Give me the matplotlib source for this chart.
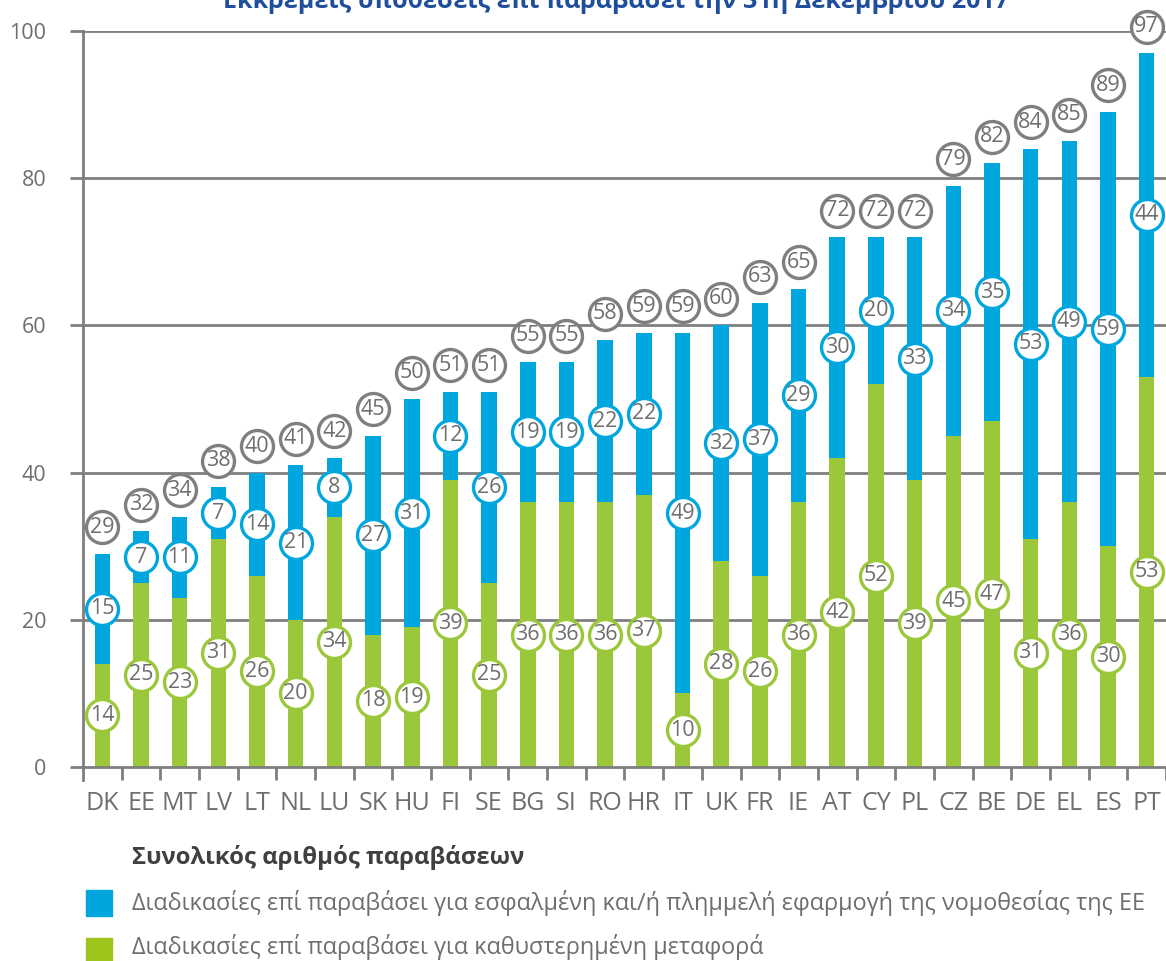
import matplotlib
matplotlib.use('Agg')
import matplotlib.pyplot as plt
from matplotlib.patches import Rectangle
import numpy as np

plt.rcParams['font.family'] = ['Open Sans', 'DejaVu Sans']

countries = ['DK', 'EE', 'MT', 'LV', 'LT', 'NL', 'LU', 'SK', 'HU', 'FI', 'SE', 'BG', 'SI', 'RO',
             'HR', 'IT', 'UK', 'FR', 'IE', 'AT', 'CY', 'PL', 'CZ', 'BE', 'DE', 'EL', 'ES', 'PT']
late = [14, 25, 23, 31, 26, 20, 34, 18, 19, 39, 25, 36, 36, 36,
        37, 10, 28, 26, 36, 42, 52, 39, 45, 47, 31, 36, 30, 53]
wrong = [15, 7, 11, 7, 14, 21, 8, 27, 31, 12, 26, 19, 19, 22,
         22, 49, 32, 37, 29, 30, 20, 33, 34, 35, 53, 49, 59, 44]
totals = [29, 32, 34, 38, 40, 41, 42, 45, 50, 51, 51, 55, 55, 58,
          59, 59, 60, 63, 65, 72, 72, 72, 79, 82, 84, 85, 89, 97]

title = 'Εκκρεμείς υποθέσεις επί παραβάσει την 31η Δεκεμβρίου 2017'
legend_head = 'Συνολικός αριθμός παραβάσεων'
legend_blue = 'Διαδικασίες επί παραβάσει για εσφαλμένη και/ή πλημμελή εφαρμογή της νομοθεσίας της ΕΕ'
legend_green = 'Διαδικασίες επί παραβάσει για καθυστερημένη μεταφορά'

blue = '#00A6DE'
green = '#9AC83A'
grey = '#7F7F7F'
txt = '#6E6E6E'

W, H = 1166, 961
fig = plt.figure(figsize=(W / 100, H / 100), dpi=100)
ax = fig.add_axes([83 / W, 1 - 767 / H, 1 - 83 / W, (767 - 31) / H])

x = np.arange(len(countries))
ax.bar(x, late, width=0.4, color=green, zorder=2)
ax.bar(x, wrong, width=0.4, bottom=late, color=blue, zorder=2)

ax.set_xlim(-0.5, (W - 83) / 38.85 - 0.5)
ax.set_ylim(0, 100)
ax.set_yticks([0, 20, 40, 60, 80, 100])
for yv in [20, 40, 60, 80, 100]:
    ax.axhline(yv, color=grey, lw=2, zorder=1)
ax.tick_params(axis='y', length=9.5, width=2, color=grey, labelcolor=txt,
               labelsize=15.5, pad=17)
ax.set_xticks(x)
ax.set_xticklabels(countries, fontsize=18, color=txt)
ax.tick_params(axis='x', length=0, pad=17)
ax.set_xticks(np.arange(len(countries)) + 0.5, minor=True)
ax.tick_params(axis='x', which='minor', length=9.5, width=2, color=grey)
# left boundary tick
ax.plot([-0.5, -0.5], [0, -1.75], color=grey, lw=2, clip_on=False)
for s in ['top', 'right']:
    ax.spines[s].set_visible(False)
ax.spines['left'].set_color(grey)
ax.spines['left'].set_linewidth(2)
ax.spines['bottom'].set_color(grey)
ax.spines['bottom'].set_linewidth(2)


def bubble(xs, ys, labels, edge):
    ax.scatter(xs, ys, s=23 ** 2, facecolor='white', edgecolor=edge,
               linewidth=2.4, zorder=5, clip_on=False)
    for xi, yi, lab in zip(xs, ys, labels):
        ax.text(xi, yi, str(lab), ha='center', va='center', fontsize=15.5,
                color=txt, zorder=6, clip_on=False)


late_mid = [l / 2 for l in late]
wrong_mid = [l + w / 2 for l, w in zip(late, wrong)]
top_pos = [t + 3.6 for t in totals]
bubble(x, late_mid, late, green)
bubble(x, wrong_mid, wrong, blue)
bubble(x, top_pos, totals, grey)

fig.text(616 / W, 1 - 8 / H, title, ha='center', va='baseline', fontsize=18,
         fontweight='bold', color='#1F4E9C')

fig.text(132 / W, 1 - 858 / H, legend_head, ha='left', va='center', fontsize=17.2,
         fontweight='bold', color='#404040')
fig.add_artist(Rectangle((86 / W, 1 - 916 / H), 26 / W, 26 / H,
                         transform=fig.transFigure, color=blue))
fig.text(132 / W, 1 - 903 / H, legend_blue, ha='left', va='center', fontsize=16.9,
         color=txt)
fig.add_artist(Rectangle((86 / W, 1 - 964 / H), 26 / W, 26 / H,
                         transform=fig.transFigure, color='#9DC41A'))
fig.text(132 / W, 1 - 947 / H, legend_green, ha='left', va='center', fontsize=16.9,
         color=txt)

fig.savefig('out.png', dpi=100)
